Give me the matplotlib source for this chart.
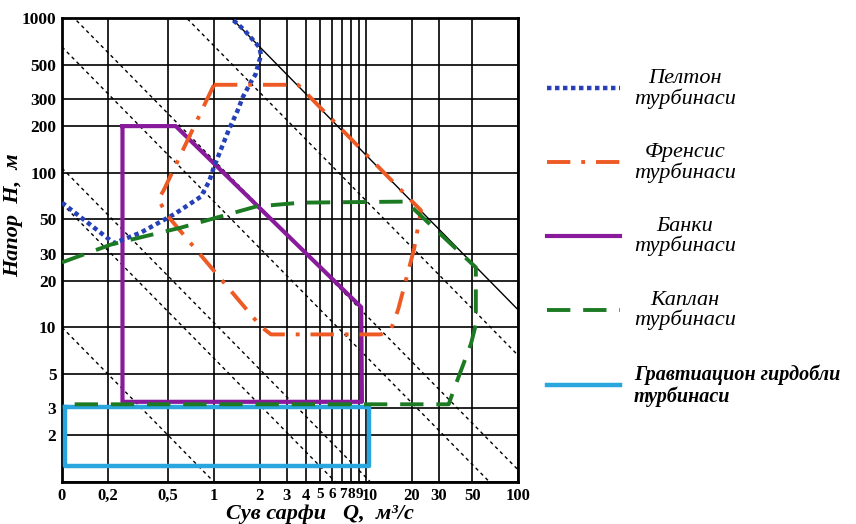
import numpy as np
import matplotlib.pyplot as plt
from matplotlib.ticker import NullLocator
from matplotlib.transforms import ScaledTranslation

# оси (логарифмик)
q_ticks = [0.1, 0.2, 0.5, 1, 2, 3, 4, 5, 6, 7, 8, 9, 10, 20, 30, 50, 100]
q_labels = ['0', '0,2', '0,5', '1', '2', '3', '4', '5', '6', '7', '8', '9', '10', '20', '30', '50', '100']
h_ticks = [1, 2, 3, 5, 10, 20, 30, 50, 100, 200, 300, 500, 1000]
h_labels = ['', '2', '3', '5', '10', '20', '30', '50', '100', '200', '300', '500', '1000']

# H*Q = const chiziqlari
power_c = [1, 6.3, 10.7, 65, 120, 660]
limit_c = 1300

# turbina sohalari
pelton_q = [0.1, 0.22, 0.33, 0.55, 0.82, 0.93, 1.0, 1.11, 1.25, 1.42, 1.55, 1.75, 1.87, 1.95, 2.04, 1.98, 1.58, 1.29]
pelton_h = [64, 35, 41, 54, 70, 88, 109, 141, 189, 248, 309, 386, 429, 497, 577, 650, 837, 1000]

francis_q = [1.0, 3.57, 23.0, 20.7, 16.3, 14.6, 12.5, 2.37, 2.04, 0.5, 0.43, 0.47, 1.0]
francis_h = [370, 370, 57, 32, 13.1, 9.7, 9.0, 9.0, 10.1, 52, 67, 78, 370]

banki_q = [0.25, 0.56, 9.3, 9.4, 0.25, 0.25]
banki_h = [200, 200, 13.5, 3.3, 3.3, 200]

kaplan_q = [0.1, 0.21, 0.61, 1.89, 3.73, 18.3, 52.8, 52.8, 49, 38, 35, 0.1]
kaplan_h = [26.3, 34.3, 44.2, 60.4, 64, 65, 24.4, 10.4, 7.8, 4.0, 3.18, 3.18]

grav_q = [0.104, 10.4, 10.4, 0.104, 0.104]
grav_h = [3.05, 3.05, 1.27, 1.27, 3.05]

fig = plt.figure(figsize=(8.56, 5.24), dpi=100)
ax = fig.add_axes([62/856, 42/524, 456/856, 464/524])
ax.set_xscale('log')
ax.set_yscale('log')
ax.set_xlim(0.1, 100)
ax.set_ylim(1, 1000)

q = np.logspace(-1, 2, 60)
for c in power_c:
    ax.plot(q, c / q, color='black', lw=1.0, ls=(0, (2.5, 2.5)), zorder=2)
ax.plot(q, limit_c / q, color='black', lw=1.0, zorder=2)

lp, = ax.plot(pelton_q, pelton_h, color='#2540b8', lw=3.2, ls=(0, (1, 0.8)),
              dash_capstyle='butt', zorder=4)
lf, = ax.plot(francis_q, francis_h, color='#ee5a24', lw=2.8, ls=(0, (6, 2.8, 1, 2.8)), zorder=4)
lb, = ax.plot(banki_q, banki_h, color='#8a1a9c', lw=3.0, zorder=3)
lk, = ax.plot(kaplan_q, kaplan_h, color='#1b7a22', lw=2.8, ls=(0, (6, 3.3)), zorder=4)
lg, = ax.plot(grav_q, grav_h, color='#29a6de', lw=3.2, zorder=3)

ax.set_xticks(q_ticks)
ax.set_xticklabels(q_labels)
ax.set_yticks(h_ticks)
ax.set_yticklabels(h_labels)
ax.xaxis.set_minor_locator(NullLocator())
ax.yaxis.set_minor_locator(NullLocator())
ax.tick_params(length=0, pad=4)
for t in ax.get_yticklabels():
    t.set_fontfamily('Liberation Serif')
    t.set_fontweight('bold')
    t.set_fontsize(12.5)
for t in ax.get_xticklabels():
    t.set_fontfamily('Liberation Serif')
    t.set_fontweight('bold')
    t.set_fontsize(12)
    if t.get_text() in ['5', '6', '7', '8', '9']:
        t.set_fontsize(11)
    if t.get_text() == '10':
        t.set_fontsize(11.5)
        t.set_transform(t.get_transform() + ScaledTranslation(4/100, 0, fig.dpi_scale_trans))
ax.grid(True, color='black', lw=1.2, zorder=1)
for s in ax.spines.values():
    s.set_linewidth(2)

lab = dict(family='Liberation Serif', weight='bold', style='italic', size=16)
ax.set_xlabel('Сув сарфи   Q,  м³/с', **lab)
ax.xaxis.set_label_coords(0.566, -0.047)
ax.set_ylabel('Напор  H,  м', **lab)
ax.yaxis.set_label_coords(-0.085, 0.575)

handles = [lp, lf, lb, lk, lg]
labels = ['Пелтон\nтурбинаси', 'Френсис\nтурбинаси', 'Банки\nтурбинаси',
          'Каплан\nтурбинаси', 'Гравтиацион гирдобли\nтурбинаси']
leg = fig.legend(handles, labels, loc='upper left', bbox_to_anchor=(536/856, 1 - 58/524),
                 frameon=False, prop=dict(family='Liberation Serif', style='italic', size=16),
                 handlelength=3.3, handletextpad=0.6, labelspacing=1.55, borderpad=0)
for t in leg.get_texts()[:4]:
    t.set_multialignment('center')
    t.set_linespacing(1.0)
leg.get_texts()[4].set_fontweight('bold')
leg.get_texts()[4].set_fontsize(14.5)
leg.get_texts()[4].set_linespacing(1.05)

fig.savefig('out.png', dpi=100)
